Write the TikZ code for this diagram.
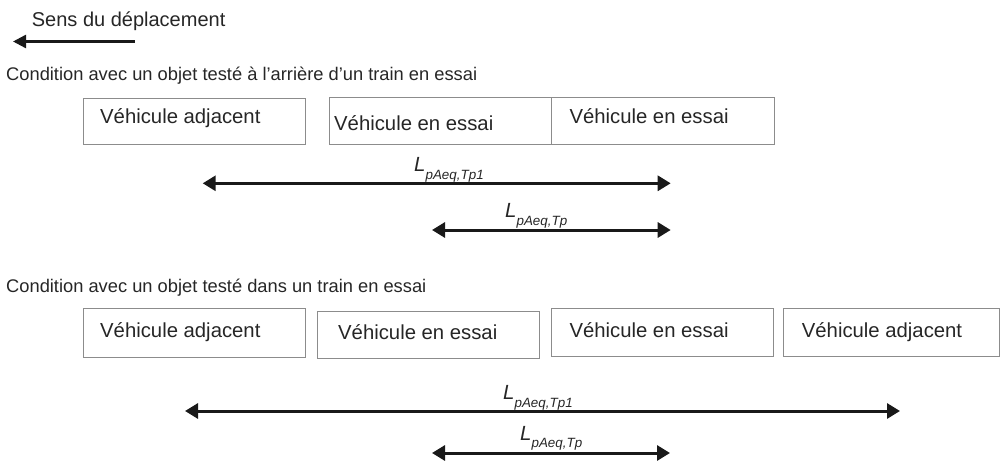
\documentclass[tikz,border=0pt]{standalone}
\usepackage{fontspec}
\setmainfont{Liberation Sans}
\usetikzlibrary{arrows.meta}
\tikzset{
  veh/.style={draw=black!45, line width=1.1pt, inner sep=0pt, anchor=north west},
  vtxt/.style={anchor=base west, inner sep=0pt, font=\fontsize{20.3}{24}\selectfont, text=black!85},
  cond/.style={anchor=base west, inner sep=0pt, font=\fontsize{18.3}{22}\selectfont, text=black!85},
  lab/.style={anchor=base west, inner sep=0pt, font=\fontsize{20.5}{24}\selectfont\itshape, text=black!85},
  dim/.style={line width=3pt, black!90, {Triangle[length=13pt,width=15pt]}-{Triangle[length=13pt,width=15pt]}},
  dir/.style={line width=2.4pt, black!90, {Triangle[length=13pt,width=13pt]}-}
}
\newcommand{\Lsub}[1]{L\raisebox{-7.5pt}{\fontsize{13.4}{15}\selectfont\itshape #1}}
\begin{document}
\begin{tikzpicture}[x=1pt,y=-1pt]
\useasboundingbox (0,0) rectangle (1000,460);
% direction
\node[cond, font=\fontsize{20}{24}\selectfont] (sens) at (31.7,26.7) {Sens du déplacement};
\coordinate (dtip) at (13,41.5);
\coordinate (dtail) at (135,41.5);
\draw[dir] (dtip) -- (dtail);
% row 1
\node[cond] (c1) at (6,80) {Condition avec un objet testé à l'arrière d’un train en essai};
\node[veh, minimum width=222.3pt, minimum height=46.3pt] (r1a) at (82.7,97.7) {};
\node[veh, minimum width=221.4pt, minimum height=47pt] (r1b) at (329.3,97) {};
\node[veh, minimum width=223.3pt, minimum height=47pt] (r1c) at (550.7,97) {};
\node[vtxt] (t1a) at (100,123) {Véhicule adjacent};
\node[vtxt] (t1b) at (334,130) {Véhicule en essai};
\node[vtxt] (t1c) at (569.3,123) {Véhicule en essai};
\coordinate (a1l) at (202.7,183.3);
\coordinate (a1r) at (670.7,183.3);
\draw[dim] (a1l) -- (a1r);
\node[lab] (l1) at (414,171.7) {\Lsub{pAeq,Tp1}};
\coordinate (a2l) at (432,230);
\coordinate (a2r) at (670.7,230);
\draw[dim] (a2l) -- (a2r);
\node[lab] (l2) at (505,217.7) {\Lsub{pAeq,Tp}};
% row 2
\node[cond] (c2) at (6,292) {Condition avec un objet testé dans un train en essai};
\node[veh, minimum width=222.3pt, minimum height=48.7pt] (r2a) at (82.7,308) {};
\node[veh, minimum width=222.3pt, minimum height=47pt] (r2b) at (316.7,311) {};
\node[veh, minimum width=222.6pt, minimum height=47.7pt] (r2c) at (550.7,308.3) {};
\node[veh, minimum width=216.3pt, minimum height=48pt] (r2d) at (782.7,308) {};
\node[vtxt] (t2a) at (100,337.3) {Véhicule adjacent};
\node[vtxt] (t2b) at (338,339) {Véhicule en essai};
\node[vtxt] (t2c) at (569.3,337.3) {Véhicule en essai};
\node[vtxt] (t2d) at (801.7,337.3) {Véhicule adjacent};
\coordinate (b1l) at (185,411);
\coordinate (b1r) at (900,411);
\draw[dim] (b1l) -- (b1r);
\node[lab] (m1) at (503,399.5) {\Lsub{pAeq,Tp1}};
\coordinate (b2l) at (432,453);
\coordinate (b2r) at (670,453);
\draw[dim] (b2l) -- (b2r);
\node[lab] (m2) at (520,440) {\Lsub{pAeq,Tp}};
\end{tikzpicture}
\end{document}
